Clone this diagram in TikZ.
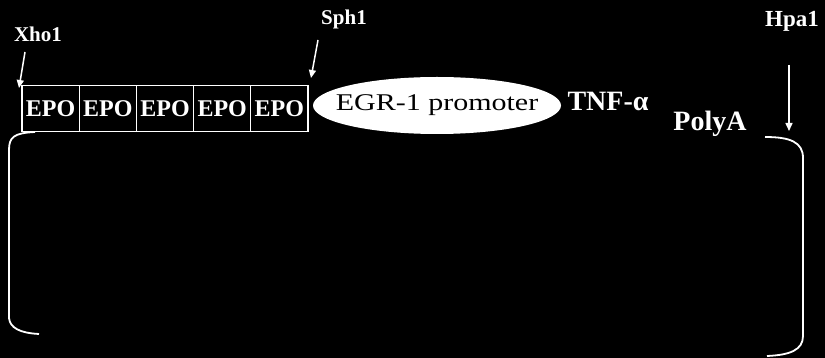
\documentclass[tikz,border=0pt]{standalone}
\usepackage{fontspec}
\setmainfont{Liberation Serif}
\usetikzlibrary{shapes.geometric,arrows.meta}
\tikzset{
  epobox/.style={draw=white, line width=1.3pt, minimum width=57.2pt, minimum height=46pt,
    inner sep=0pt, text=white, font=\fontsize{24}{24}\selectfont\bfseries},
  site/.style={text=white, inner sep=0pt, font=\fontsize{21}{21}\selectfont\bfseries},
  gene/.style={text=white, inner sep=0pt, font=\fontsize{28}{28}\selectfont\bfseries},
  cut/.style={white, line width=1.5pt, -{Triangle[width=7pt,length=8pt]}},
  vec/.style={white, line width=1.8pt}
}
\begin{document}
\begin{tikzpicture}[x=1pt,y=-1pt]
\fill[black] (0,0) rectangle (825,358);
\useasboundingbox (0,0) rectangle (825,358);
\node[epobox] (epo1) at (50.6,108.5){EPO};
\node[epobox] (epo2) at (107.8,108.5){EPO};
\node[epobox] (epo3) at (165.0,108.5){EPO};
\node[epobox] (epo4) at (222.2,108.5){EPO};
\node[epobox] (epo5) at (279.4,108.5){EPO};
\node[ellipse, fill=white, minimum width=248pt, minimum height=57pt, inner sep=0pt] (egr) at (437,105.5){};
\node[inner sep=0pt, font=\fontsize{24}{24}\selectfont] (egrtext) at (egr.center){\scalebox{1.25}[1]{EGR-1 promoter}};
\node[gene] (tnf) at (608,101){TNF-α};
\node[gene] (polya) at (710,124){PolyA};
\node[site] (xho) at (38,34){Xho1};
\node[site] (sph) at (344,19){Sph1};
\node[site, font=\fontsize{23}{23}\selectfont\bfseries] (hpa) at (792,21){Hpa1};
\coordinate (xhotail) at (25,52);
\coordinate (xhotip) at (19,88);
\coordinate (sphtail) at (318,40);
\coordinate (sphtip) at (311,78);
\coordinate (hpatail) at (789,65);
\coordinate (hpatip) at (789,131);
\draw[cut](xhotail) -- (xhotip);
\draw[cut](sphtail) -- (sphtip);
\draw[cut](hpatail) -- (hpatip);
\draw[vec] (35,132) .. controls (14,133) and (9,137) .. (9,150) -- (9,318)
  .. controls (10,328) and (20,333) .. (39,334);
\draw[vec] (765,137) .. controls (790,137) and (803,142) .. (803,158) -- (803,336)
  .. controls (803,350) and (790,355) .. (767,356);
\end{tikzpicture}
\end{document}
